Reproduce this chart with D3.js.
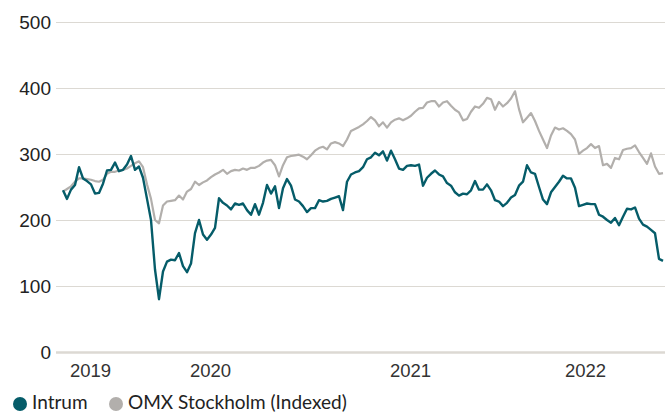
<!DOCTYPE html>
<html>
<head>
<meta charset="utf-8">
<script src="https://cdn.jsdelivr.net/npm/d3@7"></script>
<style>
  body { margin: 0; background: #fff; }
  svg { display: block; font-family: Lato, "Noto Sans", sans-serif; }
</style>
</head>
<body>
<svg id="chart" width="665" height="413"></svg>
<script>
// weekly samples, indexed values
const intrum = [245,232,246,253,280,263,259,254,240,241,255,275,276,287,274,276,284,297,276,281,
  264,232,200,125,80,122,137,140,139,150,130,121,134,180,200,178,170,178,188,233,
  226,222,216,225,223,225,215,208,224,208,226,253,240,251,218,248,262,252,231,228,
  221,212,218,218,230,228,229,232,234,236,215,258,269,272,274,280,292,295,302,298,
  304,290,305,292,278,276,282,283,282,284,252,264,270,275,269,266,256,252,242,237,
  240,239,245,259,246,246,254,245,230,228,221,226,234,238,252,258,283,272,270,250,
  231,224,242,250,258,267,263,263,249,221,223,225,224,224,208,205,200,196,203,192,
  205,217,216,219,202,193,190,185,180,141,138];

const omx = [243,247,251,258,263,263,262,261,259,258,261,270,273,273,275,276,278,282,286,289,
  280,254,232,200,195,222,228,229,230,237,231,243,247,258,253,257,260,265,269,272,
  276,270,274,276,275,278,276,279,279,282,287,290,291,283,266,283,295,297,298,299,
  296,292,298,305,309,311,307,316,318,316,312,322,335,338,341,345,350,356,351,342,
  348,340,348,352,354,351,354,358,364,369,370,378,380,380,372,378,380,373,367,363,
  351,353,364,372,370,376,385,383,367,379,372,377,384,395,368,348,355,362,350,335,
  322,309,328,340,337,339,335,330,322,300,305,309,315,309,312,283,285,279,294,292,
  306,308,309,313,303,294,285,301,281,270,271];

const yTicks = [0, 100, 200, 300, 400, 500];
const xTickLabels = ["2019", "2020", "2021", "2022"];
const xTickWeeks = [6.75, 36.75, 86.75, 130.5];

const seriesNames = ["Intrum", "OMX Stockholm (Indexed)"];
const seriesColors = ["#055c69", "#b2afac"];

const svg = d3.select("#chart");
const margin = { left: 56, right: 0, top: 22, bottom: 61 };
const width = 665, height = 413;

const x = d3.scaleLinear()
  .domain([0, intrum.length - 1])
  .range([63, 663]);

const y = d3.scaleLinear()
  .domain([0, 500])
  .range([height - margin.bottom, margin.top]);

// grid + y labels
const yAxis = svg.append("g")
  .attr("transform", `translate(${margin.left},0)`)
  .call(d3.axisLeft(y).tickValues(yTicks).tickSize(-(width - margin.left)).tickPadding(5));
yAxis.select(".domain").remove();
yAxis.selectAll(".tick line")
  .attr("stroke", "#dcd9d3")
  .attr("stroke-width", d => d === 0 ? 2.5 : 1.2);
yAxis.selectAll(".tick text")
  .attr("fill", "#222")
  .style("font-size", "19px");

// x labels
const xAxis = svg.append("g")
  .attr("transform", `translate(0,${y(0)})`)
  .call(d3.axisBottom(x).tickValues(xTickWeeks)
    .tickFormat((d, i) => xTickLabels[i]).tickSize(0).tickPadding(12));
xAxis.select(".domain").remove();
xAxis.selectAll(".tick text")
  .attr("fill", "#333")
  .style("font-size", "18.5px");

const line = d3.line()
  .x((d, i) => x(i))
  .y(d => y(d))
  .curve(d3.curveLinear);

svg.append("path")
  .datum(omx)
  .attr("fill", "none")
  .attr("stroke", seriesColors[1])
  .attr("stroke-width", 2.2)
  .attr("stroke-linejoin", "round")
  .attr("d", line);

svg.append("path")
  .datum(intrum)
  .attr("fill", "none")
  .attr("stroke", seriesColors[0])
  .attr("stroke-width", 2.4)
  .attr("stroke-linejoin", "round")
  .attr("d", line);

// legend
const legendX = [20, 116];
const legend = svg.append("g");
seriesNames.forEach((name, i) => {
  legend.append("circle")
    .attr("cx", legendX[i])
    .attr("cy", 404)
    .attr("r", 7)
    .attr("fill", seriesColors[i]);
  legend.append("text")
    .attr("x", legendX[i] + 12)
    .attr("y", 409)
    .attr("fill", "#222")
    .style("font-size", "19px")
    .text(name);
});
</script>
</body>
</html>
